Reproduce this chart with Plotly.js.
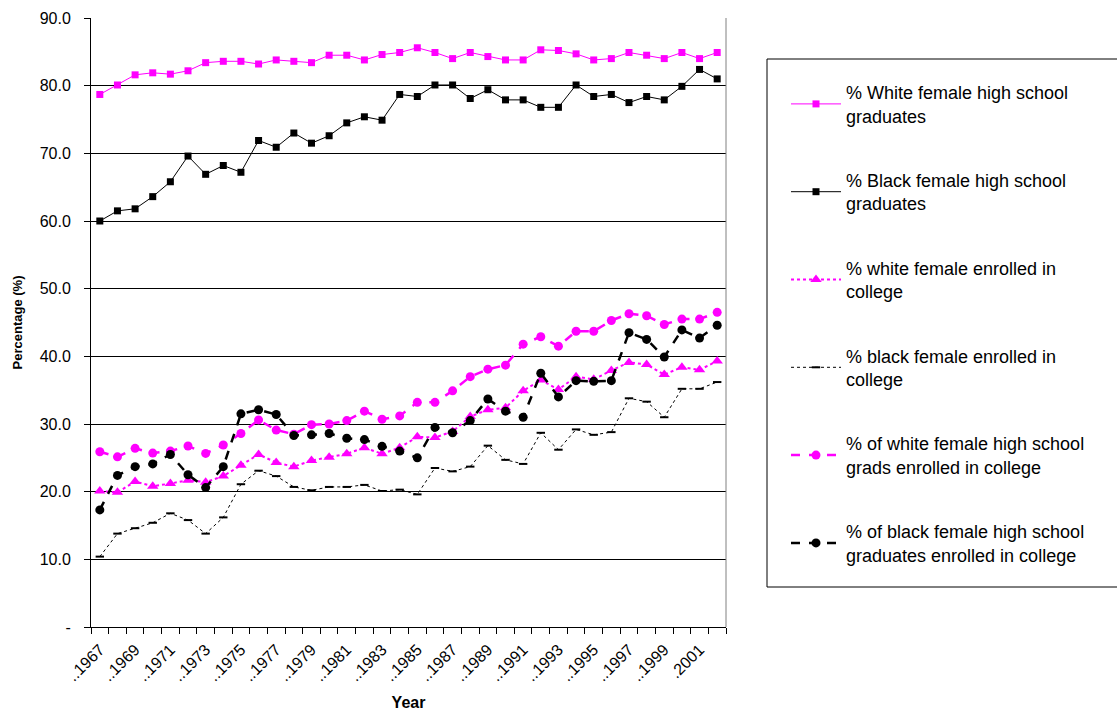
<!DOCTYPE html>
<html>
<head>
<meta charset="utf-8">
<script src="https://cdn.plot.ly/plotly-3.0.1.min.js"></script>
<style>html,body{margin:0;padding:0;background:#fff;}#chart{width:1117px;height:711px;}</style>
</head>
<body>
<div id="chart"></div>
<script>
const years = [1967,1968,1969,1970,1971,1972,1973,1974,1975,1976,1977,1978,1979,1980,1981,1982,1983,1984,1985,1986,1987,1988,1989,1990,1991,1992,1993,1994,1995,1996,1997,1998,1999,2000,2001,2002];

const whiteGrads = [78.7,80.1,81.6,81.9,81.7,82.2,83.4,83.6,83.6,83.2,83.8,83.6,83.4,84.5,84.5,83.8,84.6,84.9,85.6,84.9,84.0,84.9,84.3,83.8,83.8,85.3,85.2,84.7,83.8,84.0,84.9,84.5,84.0,84.9,84.0,84.9];
const blackGrads = [60.0,61.5,61.8,63.6,65.8,69.6,66.9,68.2,67.2,71.9,70.9,73.0,71.5,72.6,74.5,75.4,74.9,78.7,78.4,80.1,80.1,78.1,79.4,77.9,77.9,76.8,76.8,80.1,78.4,78.7,77.5,78.4,77.9,79.9,82.4,81.0];
const whiteEnrolled = [20.1,19.9,21.5,20.8,21.2,21.7,21.4,22.3,23.9,25.5,24.3,23.7,24.6,25.1,25.6,26.5,25.6,26.5,28.1,28.0,28.9,31.1,32.1,32.4,34.9,36.5,35.1,37.0,36.6,37.9,39.1,38.8,37.3,38.4,38.0,39.3];
const blackEnrolled = [10.4,13.8,14.6,15.4,16.8,15.8,13.8,16.2,21.1,23.1,22.3,20.7,20.2,20.7,20.7,21.0,20.1,20.3,19.6,23.5,23.0,23.7,26.8,24.7,24.1,28.7,26.2,29.2,28.4,28.8,33.8,33.3,31.0,35.2,35.2,36.2];
const whiteGradsEnrolled = [25.9,25.15,26.4,25.7,26.0,26.75,25.65,26.9,28.6,30.6,29.1,28.5,29.9,30.0,30.5,31.9,30.7,31.2,33.2,33.2,34.9,37.0,38.1,38.7,41.8,42.9,41.5,43.7,43.7,45.3,46.3,46.0,44.7,45.5,45.5,46.5];
const blackGradsEnrolled = [17.3,22.4,23.7,24.1,25.5,22.5,20.6,23.7,31.5,32.1,31.4,28.3,28.4,28.6,27.9,27.7,26.7,26.0,25.0,29.5,28.7,30.5,33.7,31.9,31.0,37.5,34.0,36.4,36.3,36.4,43.5,42.5,39.9,43.9,42.7,44.6];

const xTickVals = [1967,1969,1971,1973,1975,1977,1979,1981,1983,1985,1987,1989,1991,1993,1995,1997,1999,2001];
const xTickText = ["..1967","..1969","..1971","..1973","..1975","..1977","..1979","..1981","..1983","..1985","..1987","..1989","..1991","..1993","..1995","..1997","..1999",".2001"];
const yTickVals = [0,10,20,30,40,50,60,70,80,90];
const yTickText = ["-","10.0","20.0","30.0","40.0","50.0","60.0","70.0","80.0","90.0"];

const names = [
  "% White female high school<br>graduates",
  "% Black female high school<br>graduates",
  "% white female enrolled in<br>college",
  "% black female enrolled in<br>college",
  "% of white female high school<br>grads enrolled in college",
  "% of black female high school<br>graduates enrolled in college"
];

const MAG = "#FF00FF";
const FONT = "Arial, 'Liberation Sans', sans-serif";

const traces = [
  {x: years, y: whiteGrads, name: names[0], legendgroup: "a", mode: "lines+markers",
   line: {color: MAG, width: 1}, marker: {symbol: "square", size: 7, color: MAG}},
  {x: years, y: blackGrads, name: names[1], legendgroup: "b", mode: "lines+markers",
   line: {color: "#000", width: 1}, marker: {symbol: "square", size: 7, color: "#000"}},
  {x: years, y: whiteEnrolled, name: names[2], legendgroup: "c", mode: "lines+markers",
   line: {color: MAG, width: 2, dash: "dot"}, marker: {symbol: "triangle-up", size: 10, color: MAG}},
  {x: years, y: blackEnrolled, name: names[3], legendgroup: "d", mode: "lines+markers",
   line: {color: "#000", width: 1, dash: "dot"}, marker: {symbol: "line-ew", size: 6, color: "#000", line: {color: "#000", width: 2}}},
  {x: years, y: whiteGradsEnrolled, name: names[4], legendgroup: "e", mode: "lines+markers",
   line: {color: MAG, width: 2.5, dash: "dash"}, marker: {symbol: "circle", size: 9, color: MAG}},
  {x: years, y: blackGradsEnrolled, name: names[5], legendgroup: "f", mode: "lines+markers",
   line: {color: "#000", width: 2.5, dash: "dash"}, marker: {symbol: "circle", size: 9, color: "#000"}}
];

const L = 91, R = 726, T = 18, B = 627;
const W = R - L, H = B - T;
const px = v => (v - L) / W;
const py = v => (B - v) / H;

const layout = {
  width: 1117, height: 711,
  margin: {l: L, r: 1117 - R, t: T, b: 711 - B, pad: 0},
  paper_bgcolor: "#fff", plot_bgcolor: "#fff",
  font: {family: FONT, color: "#000", size: 14},
  showlegend: true,
  legend: {
    x: px(786), y: py(74), xanchor: "left", yanchor: "top",
    bgcolor: "rgba(0,0,0,0)", borderwidth: 0,
    font: {family: FONT, size: 18, color: "#000"},
    traceorder: "grouped", tracegroupgap: 38, itemwidth: 50
  },
  xaxis: {
    range: [1966.5, 2002.5], tickmode: "array", tickvals: xTickVals, ticktext: xTickText,
    tickangle: -45, ticks: "outside", ticklen: 6, tickcolor: "rgba(0,0,0,0)",
    tickfont: {family: FONT, size: 16, color: "#000"},
    minor: {tick0: 1966.5, dtick: 1, ticks: "outside", ticklen: 6, tickcolor: "#000", tickwidth: 1, showgrid: false},
    showgrid: false, zeroline: false, showline: true, linecolor: "#000", linewidth: 1,
    title: {text: "<b>Year</b>", font: {family: FONT, size: 16, color: "#000"}, standoff: 14}
  },
  yaxis: {
    range: [0, 90], tickmode: "array", tickvals: yTickVals, ticktext: yTickText,
    ticks: "outside", ticklen: 6, tickcolor: "#000", ticklabelstandoff: 10,
    tickfont: {family: FONT, size: 16, color: "#000"},
    showgrid: true, gridcolor: "#000", gridwidth: 1, zeroline: false,
    showline: true, linecolor: "#000", linewidth: 1,
    title: {text: "<b>Percentage (%)</b>", font: {family: FONT, size: 13, color: "#000"}, standoff: 14}
  },
  shapes: [
    {type: "line", xref: "paper", yref: "paper", x0: 1, x1: 1, y0: 0, y1: 1, line: {color: "#808080", width: 1}},
    {type: "rect", xref: "paper", yref: "paper", x0: px(767), x1: px(1125), y0: py(587), y1: py(59), line: {color: "#000", width: 1}, fillcolor: "rgba(0,0,0,0)"}
  ]
};

Plotly.newPlot("chart", traces, layout, {staticPlot: true, displayModeBar: false});
</script>
</body>
</html>
